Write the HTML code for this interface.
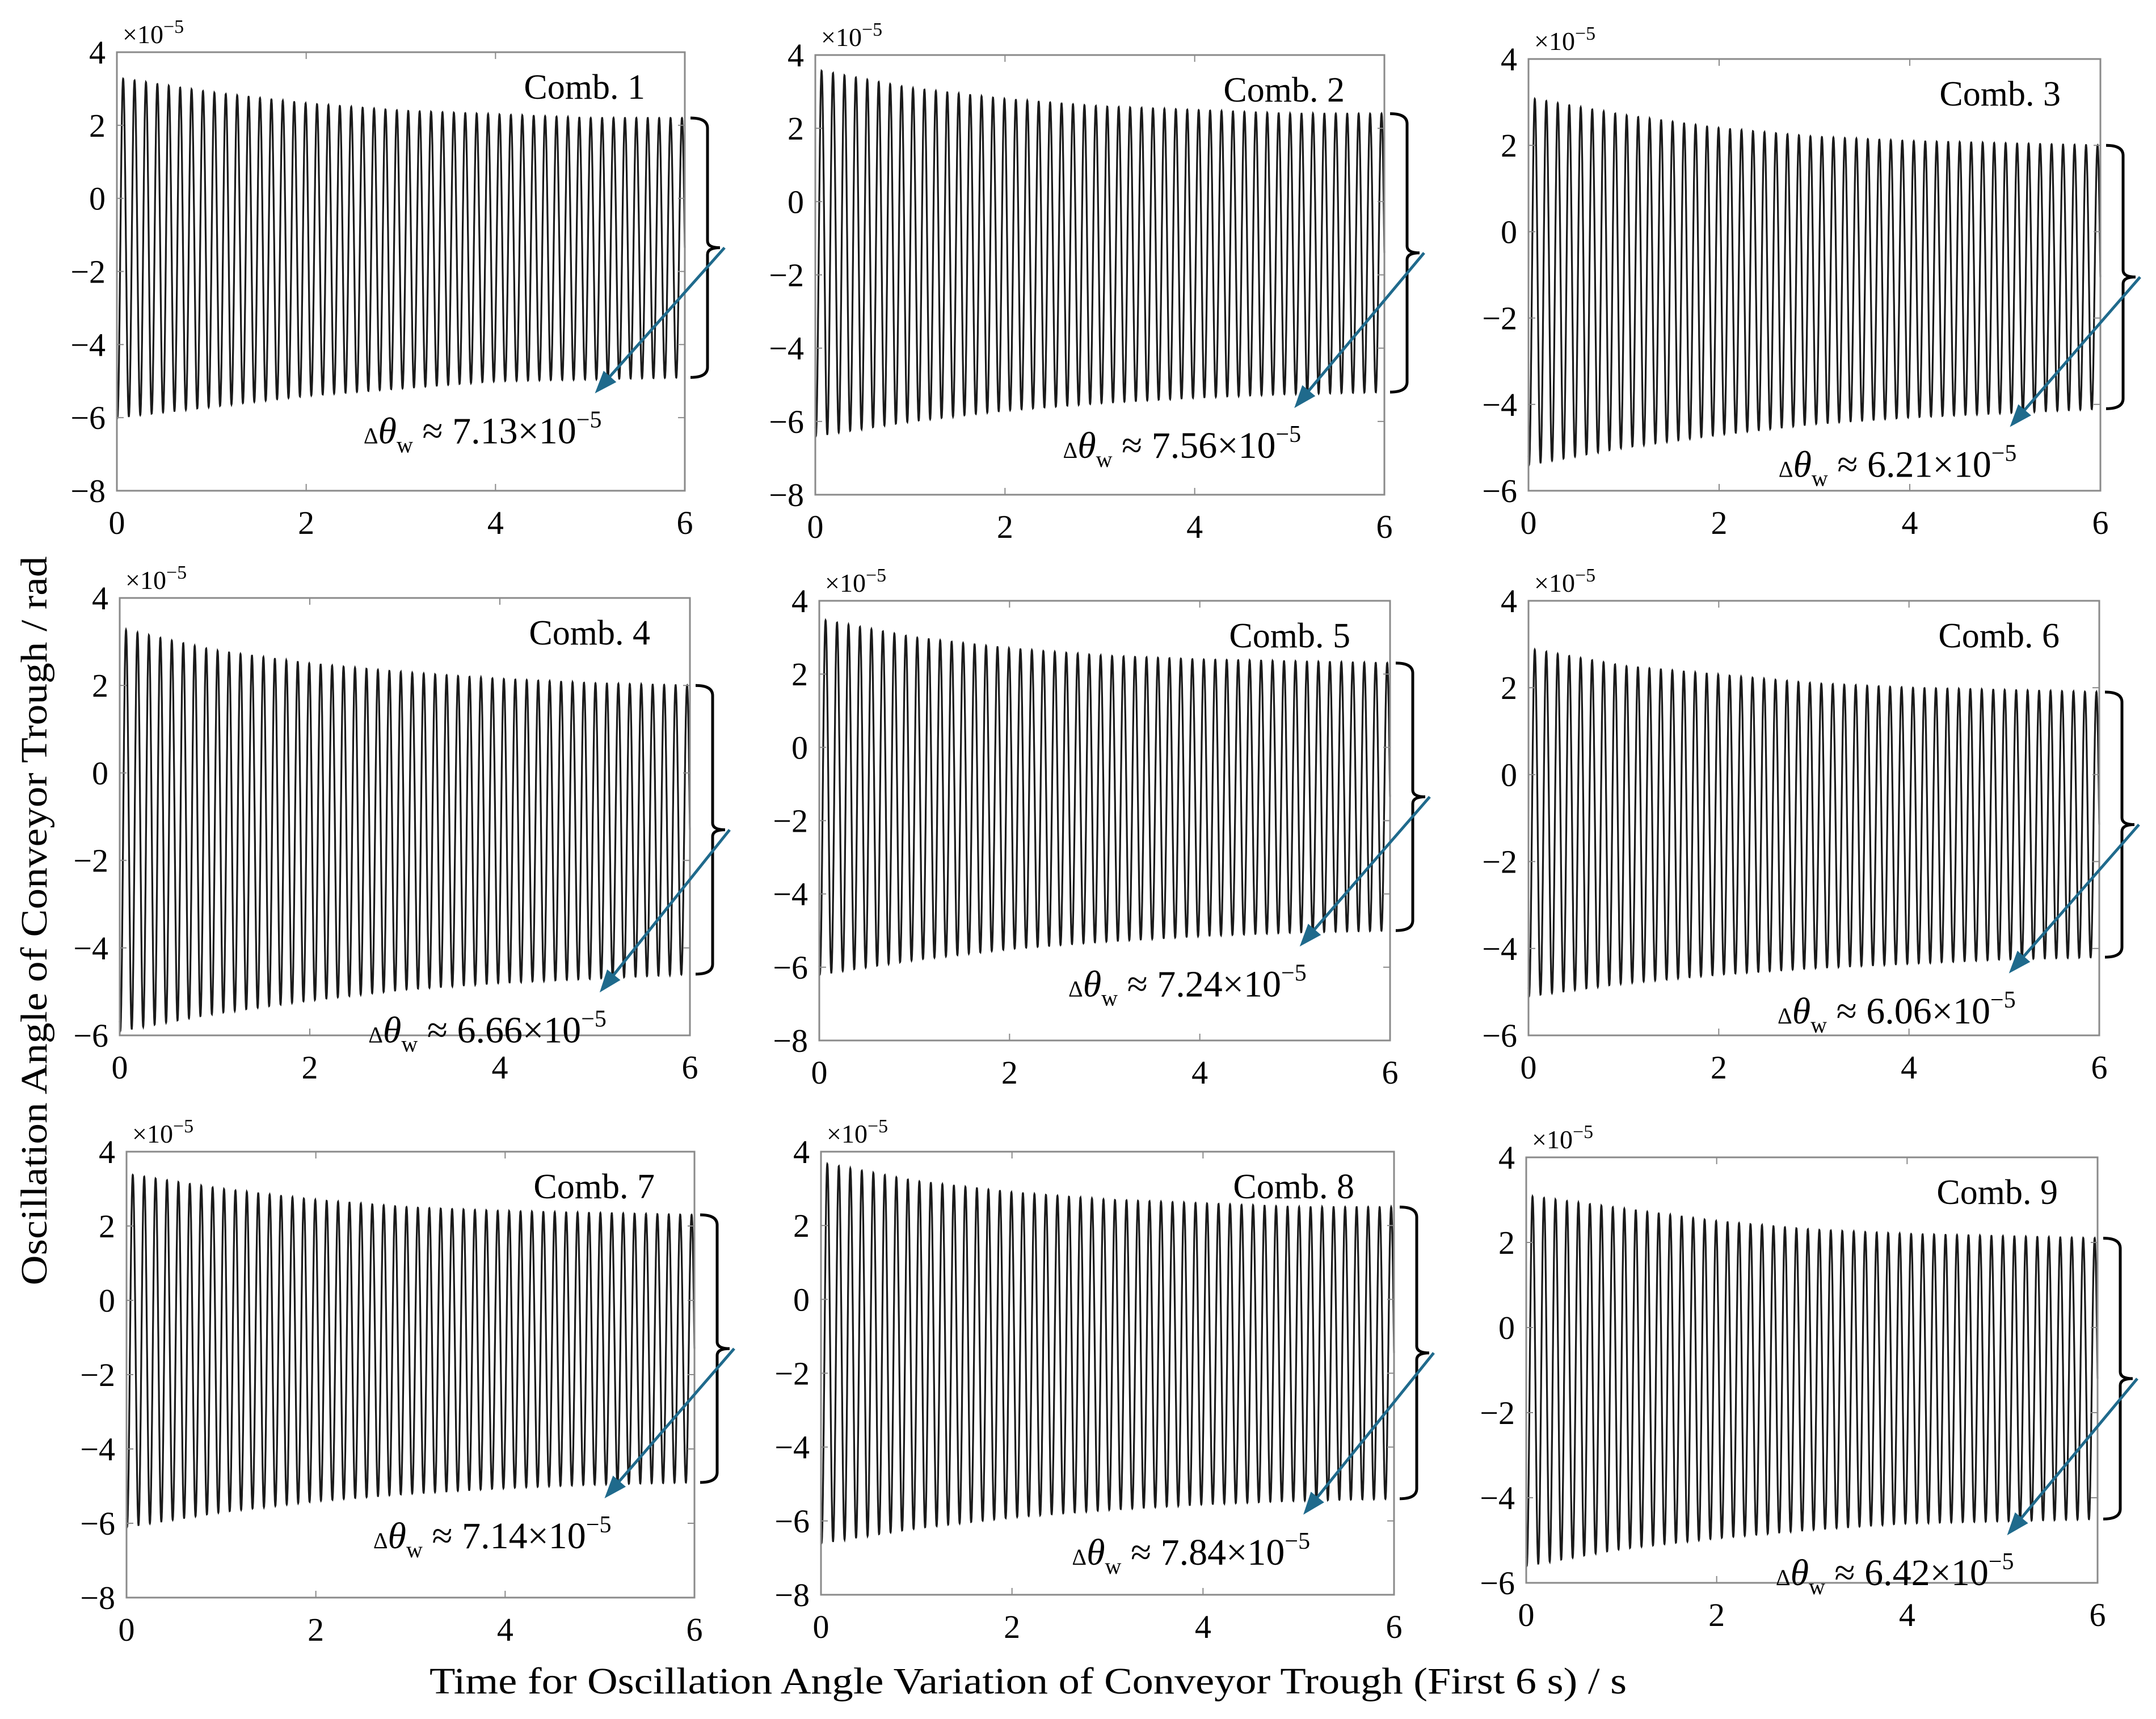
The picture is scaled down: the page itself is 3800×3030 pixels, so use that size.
<!DOCTYPE html>
<html><head><meta charset="utf-8">
<style>
html,body{margin:0;padding:0;background:#fff;}
svg{display:block;font-family:"Liberation Serif",serif;}
</style></head>
<body>
<svg id="fig" width="3800" height="3030" viewBox="0 0 3800 3030" xmlns="http://www.w3.org/2000/svg">
<rect width="3800" height="3030" fill="#fff"/>
<text transform="translate(82,1623) rotate(-90)" text-anchor="middle" font-size="66" textLength="1285" lengthAdjust="spacingAndGlyphs">Oscillation Angle of Conveyor Trough / rad</text>
<text x="1812" y="2985" text-anchor="middle" font-size="66" textLength="2110" lengthAdjust="spacingAndGlyphs">Time for Oscillation Angle Variation of Conveyor Trough (First 6 s) / s</text>
<g id="panels"></g>
</svg>
<script>
// ---- data (units of 1e-5 rad), envelope sampled at t = 0..6 s ----
const envTimes = [0, 1, 2, 3, 4, 5, 6];
const combNames = ["Comb. 1","Comb. 2","Comb. 3","Comb. 4","Comb. 5","Comb. 6","Comb. 7","Comb. 8","Comb. 9"];
const deltaLabels = ["7.13","7.56","6.21","6.66","7.24","6.06","7.14","7.84","6.42"];
const upper1 = [3.3, 2.9, 2.6, 2.4, 2.3, 2.2, 2.2];
const lower1 = [-6.0, -5.7, -5.4, -5.2, -5.0, -4.95, -4.9];
const upper2 = [3.6, 3.1, 2.8, 2.6, 2.5, 2.4, 2.4];
const lower2 = [-6.4, -6.0, -5.7, -5.5, -5.35, -5.25, -5.2];
const upper3 = [3.1, 2.7, 2.4, 2.2, 2.1, 2.05, 2.0];
const lower3 = [-5.4, -5.0, -4.7, -4.45, -4.3, -4.2, -4.1];
const upper4 = [3.3, 2.8, 2.5, 2.3, 2.15, 2.05, 2.0];
const lower4 = [-5.9, -5.5, -5.2, -4.95, -4.8, -4.7, -4.6];
const upper5 = [3.5, 3.0, 2.7, 2.5, 2.4, 2.35, 2.3];
const lower5 = [-6.2, -5.8, -5.5, -5.3, -5.15, -5.05, -5.0];
const upper6 = [2.9, 2.5, 2.3, 2.1, 2.0, 1.95, 1.9];
const lower6 = [-5.1, -4.8, -4.6, -4.45, -4.35, -4.25, -4.2];
const upper7 = [3.4, 3.0, 2.7, 2.5, 2.4, 2.35, 2.3];
const lower7 = [-6.1, -5.7, -5.4, -5.2, -5.05, -4.95, -4.9];
const upper8 = [3.7, 3.2, 2.9, 2.7, 2.6, 2.5, 2.5];
const lower8 = [-6.6, -6.2, -5.9, -5.7, -5.55, -5.45, -5.4];
const upper9 = [3.1, 2.8, 2.5, 2.3, 2.2, 2.15, 2.1];
const lower9 = [-5.6, -5.2, -4.95, -4.75, -4.6, -4.55, -4.5];
const upperEnv = [upper1,upper2,upper3,upper4,upper5,upper6,upper7,upper8,upper9];
const lowerEnv = [lower1,lower2,lower3,lower4,lower5,lower6,lower7,lower8,lower9];
const yMins = [-8,-8,-6,-6,-8,-6,-8,-8,-6];
const yMax = 4;
const xTicks = [0,2,4,6];
const oscFreq = 8.3; // Hz
// ---- layout ----
const boxes = [
 [206,92,1207,865],[1437,97,2440,872],[2694,104,3702,865],
 [211,1054,1216,1825],[1444,1059,2450,1834],[2694,1059,3700,1825],
 [223,2030,1224,2816],[1447,2030,2457,2811],[2690,2040,3697,2790]
];
const NS="http://www.w3.org/2000/svg";
const root=document.getElementById('panels');
function mk(tag,attrs,parent){const e=document.createElementNS(NS,tag);for(const k in attrs)e.setAttribute(k,attrs[k]);(parent||root).appendChild(e);return e;}
function interp(arr,t){const i=Math.min(5,Math.floor(t));const f=t-i;return arr[i]+(arr[i+1]-arr[i])*f;}
boxes.forEach((b,p)=>{
  const [x0,y0,x1,y1]=b;const ymin=yMins[p];
  const sx=t=>x0+(t-0)/6*(x1-x0);
  const sy=v=>y1-(v-ymin)/(yMax-ymin)*(y1-y0);
  const g=mk('g',{});
  
  
  let d='';const N=6000;
  for(let i=0;i<=N;i++){const t=6*i/N;const u=interp(upperEnv[p],t),l=interp(lowerEnv[p],t);
    const mid=(u+l)/2,amp=(u-l)/2;const v=mid+amp*Math.cos(2*Math.PI*oscFreq*t+Math.PI*0.9);
    d+=(i?'L':'M')+sx(t).toFixed(1)+','+sy(v).toFixed(1);}
  const line=mk('path',{d:d,fill:'none',stroke:'#1a1a1a','stroke-width':3.2},g);
  
  
  const box=mk('rect',{x:x0,y:y0,width:x1-x0,height:y1-y0,fill:'none',stroke:'#8a8a8a','stroke-width':3},g);
  
  
  for(let v=ymin;v<=yMax;v+=2){const y=sy(v);
    mk('line',{x1:x0,x2:x0+12,y1:y,y2:y,stroke:'#8a8a8a','stroke-width':2},g);
    mk('line',{x1:x1,x2:x1-12,y1:y,y2:y,stroke:'#8a8a8a','stroke-width':2},g);
    const tl=mk('text',{x:x0-20,y:y+20,'text-anchor':'end','font-size':58},g);
    tl.textContent=(v<0?'\u2212':'')+Math.abs(v);
    
    }
  xTicks.forEach(v=>{const x=sx(v);
    mk('line',{x1:x,x2:x,y1:y1,y2:y1-12,stroke:'#8a8a8a','stroke-width':2},g);
    mk('line',{x1:x,x2:x,y1:y0,y2:y0+12,stroke:'#8a8a8a','stroke-width':2},g);
    const tl=mk('text',{x:x,y:y1+76,'text-anchor':'middle','font-size':58},g);
    tl.textContent=v;
    
    });
  const ex=mk('text',{x:x0+10,y:y0-16,'font-size':46},g);
  ex.innerHTML='\u00d710<tspan dy="-18" font-size="34">\u22125</tspan>';
  
  
  const cl=mk('text',{x:x1-70,y:y0+82,'text-anchor':'end','font-size':62},g);
  cl.textContent=combNames[p];
  
  
  const uy=sy(upperEnv[p][6]),ly=sy(lowerEnv[p][6]);const my=(uy+ly)/2;
  const bx=x1+10,bv=x1+40,tip=x1+62;
  const br=mk('path',{d:`M${bx},${uy} Q${bv},${uy} ${bv},${uy+18} L${bv},${my-12} Q${bv},${my} ${tip},${my} Q${bv},${my} ${bv},${my+12} L${bv},${ly-18} Q${bv},${ly} ${bx},${ly}`,fill:'none',stroke:'#000','stroke-width':5},g);
  
  
  const ax=sx(5.05),ay=sy(interp(lowerEnv[p],5.05))+25;
  const sxp=tip+8,syp=my;
  const ang=Math.atan2(ay-syp,ax-sxp);
  const ar=mk('line',{x1:sxp,y1:syp,x2:ax-Math.cos(ang)*30,y2:ay-Math.sin(ang)*30,stroke:'#1f6a8c','stroke-width':5},g);
  
  
  const hl=40,hw=15;
  const bxh=ax-Math.cos(ang)*hl,byh=ay-Math.sin(ang)*hl;
  const head=mk('polygon',{points:`${ax},${ay} ${bxh-Math.sin(ang)*hw},${byh+Math.cos(ang)*hw} ${bxh+Math.sin(ang)*hw},${byh-Math.cos(ang)*hw}`,fill:'#1f6a8c'},g);
  
  
  const dl=mk('text',{x:ax+12,y:ay+88,'text-anchor':'end','font-size':66},g);
  dl.innerHTML='<tspan font-size="40">\u0394</tspan><tspan font-style="italic">\u03b8</tspan><tspan font-size="40" dy="16">w</tspan><tspan dy="-16"> \u2248 '+deltaLabels[p]+'\u00d710</tspan><tspan font-size="42" dy="-28">\u22125</tspan>';
  
  
});
</script>
</body></html>
